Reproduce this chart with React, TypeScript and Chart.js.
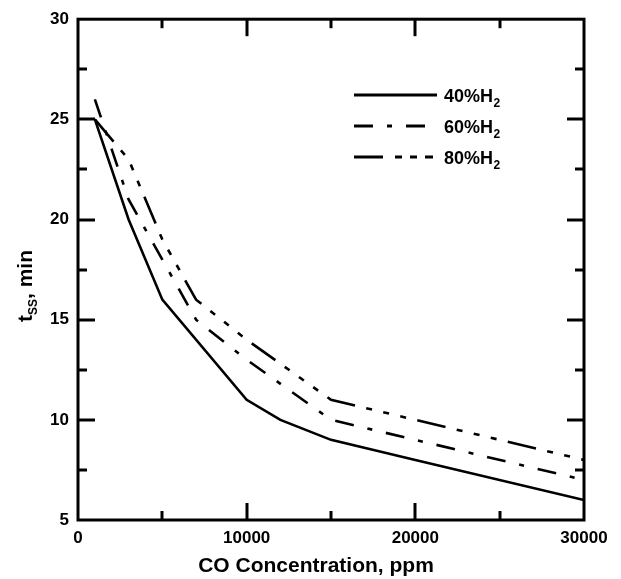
import React, { useEffect, useRef } from 'react';
import { Chart, registerables } from 'chart.js';

Chart.register(...registerables);

// ---- data ----
const co40 = [1000, 3000, 5000, 10000, 12000, 15000, 20000, 30000];
const t40 = [25, 20, 16, 11, 10, 9, 8, 6];

const co60 = [1000, 3000, 5000, 7000, 10000, 15000, 20000, 30000];
const t60 = [26, 21, 18, 15, 13, 10, 9, 7];

const co80 = [1000, 3000, 5000, 7000, 10000, 15000, 20000, 30000];
const t80 = [25, 23, 19, 16, 14, 11, 10, 8];

const seriesNames = ['40%H', '60%H', '80%H'];
const seriesSub = '2';
const xTitle = 'CO Concentration, ppm';
const yTitleMain = 't';
const yTitleSub = 'SS';
const yTitleRest = ', min';

const FONT = '"Liberation Sans", Arial, Helvetica, sans-serif';
const DASH60 = [19, 14, 5, 14];
const DASH80 = [29, 11.5, 6, 11.5, 6, 11.5, 6, 11.5];

const toPts = (xs: number[], ys: number[]) => xs.map((x, i) => ({ x, y: ys[i] }));

const framePlugin = {
  id: 'frame',
  afterDraw(chart: any) {
    const { ctx, chartArea: a, scales } = chart;
    const xs = scales.x;
    const ys = scales.y;
    ctx.save();
    ctx.strokeStyle = '#000';
    ctx.lineCap = 'butt';
    ctx.setLineDash([]);
    ctx.lineWidth = 3;
    const line = (x1: number, y1: number, x2: number, y2: number) => {
      ctx.beginPath();
      ctx.moveTo(x1, y1);
      ctx.lineTo(x2, y2);
      ctx.stroke();
    };
    // ticks x (top & bottom)
    for (let v = 5000; v < 30000; v += 5000) {
      const px = Math.round(xs.getPixelForValue(v));
      const len = v % 10000 === 0 ? 17 : 9;
      line(px, a.bottom, px, a.bottom - len);
      line(px, a.top, px, a.top + len);
    }
    // ticks y (left & right)
    for (let v = 7.5; v < 30; v += 2.5) {
      const py = Math.round(ys.getPixelForValue(v));
      const len = v % 5 === 0 ? 17 : 9;
      line(a.left, py, a.left + len, py);
      line(a.right, py, a.right - len, py);
    }
    ctx.strokeRect(a.left, a.top, a.right - a.left, a.bottom - a.top);

    // legend
    const lx1 = 354;
    const rows = [95, 126, 157];
    const dashes = [[], DASH60, [29, 12, 7, 8, 7, 8, 8, 100]];
    const ends = [437, 427, 433];
    ctx.lineWidth = 2.8;
    rows.forEach((ry, i) => {
      ctx.setLineDash(dashes[i]);
      line(lx1, ry, ends[i], ry);
    });
    ctx.setLineDash([]);
    ctx.fillStyle = '#000';
    ctx.textBaseline = 'alphabetic';
    ctx.textAlign = 'left';
    rows.forEach((ry, i) => {
      ctx.font = `bold 18px ${FONT}`;
      const base = ry + 6.5;
      ctx.fillText(seriesNames[i], 444, base);
      const w = ctx.measureText(seriesNames[i]).width;
      ctx.font = `bold 12px ${FONT}`;
      ctx.fillText(seriesSub, 444 + w + 0.5, base + 5);
    });

    // x title
    ctx.font = `bold 21px ${FONT}`;
    ctx.textAlign = 'center';
    ctx.fillText(xTitle, 316, 572);

    // y title (rotated)
    ctx.save();
    ctx.translate(32, 286);
    ctx.rotate(-Math.PI / 2);
    ctx.textAlign = 'left';
    ctx.font = `bold 21px ${FONT}`;
    const w1 = ctx.measureText(yTitleMain).width;
    ctx.font = `bold 12px ${FONT}`;
    const w2 = ctx.measureText(yTitleSub).width;
    ctx.font = `bold 21px ${FONT}`;
    const w3 = ctx.measureText(yTitleRest).width;
    let x0 = -(w1 + w2 + w3) / 2;
    ctx.fillText(yTitleMain, x0, 0);
    x0 += w1;
    ctx.font = `bold 12px ${FONT}`;
    ctx.fillText(yTitleSub, x0, 5);
    x0 += w2;
    ctx.font = `bold 21px ${FONT}`;
    ctx.fillText(yTitleRest, x0, 0);
    ctx.restore();

    ctx.restore();
  },
};

export default function App() {
  const ref = useRef<HTMLCanvasElement | null>(null);
  useEffect(() => {
    if (!ref.current) return;
    const common = { borderColor: '#000', borderWidth: 2.6, pointRadius: 0, fill: false, tension: 0, borderCapStyle: 'butt' as const };
    const chart = new Chart(ref.current, {
      type: 'line',
      data: {
        datasets: [
          { label: '40%H2', data: toPts(co40, t40), ...common },
          { label: '60%H2', data: toPts(co60, t60), ...common, borderDash: DASH60 },
          { label: '80%H2', data: toPts(co80, t80), ...common, borderDash: DASH80 },
        ],
      },
      options: {
        animation: false,
        responsive: false,
        layout: { padding: { top: 14, right: 37, left: 0, bottom: 0 } },
        plugins: { legend: { display: false }, tooltip: { enabled: false } },
        scales: {
          x: {
            type: 'linear',
            min: 0,
            max: 30000,
            grid: { display: false, drawTicks: false },
            border: { display: false },
            ticks: {
              stepSize: 10000,
              padding: 8,
              color: '#000',
              font: { family: FONT, size: 17, weight: 'bold' },
              maxRotation: 0,
              callback: (v: any) => String(v),
            },
            afterFit: (s: any) => { s.height = 59; },
          },
          y: {
            type: 'linear',
            min: 5,
            max: 30,
            grid: { display: false, drawTicks: false },
            border: { display: false },
            ticks: {
              stepSize: 5,
              padding: 9,
              color: '#000',
              font: { family: FONT, size: 17, weight: 'bold' },
            },
            afterFit: (s: any) => { s.width = 78; },
          },
        },
      },
      plugins: [framePlugin],
    });
    return () => chart.destroy();
  }, []);
  return (
    <div style={{ position: 'absolute', left: 0, top: 0, width: 621, height: 579, background: '#fff' }}>
      <canvas ref={ref} width={621} height={579} style={{ display: 'block' }} />
    </div>
  );
}
